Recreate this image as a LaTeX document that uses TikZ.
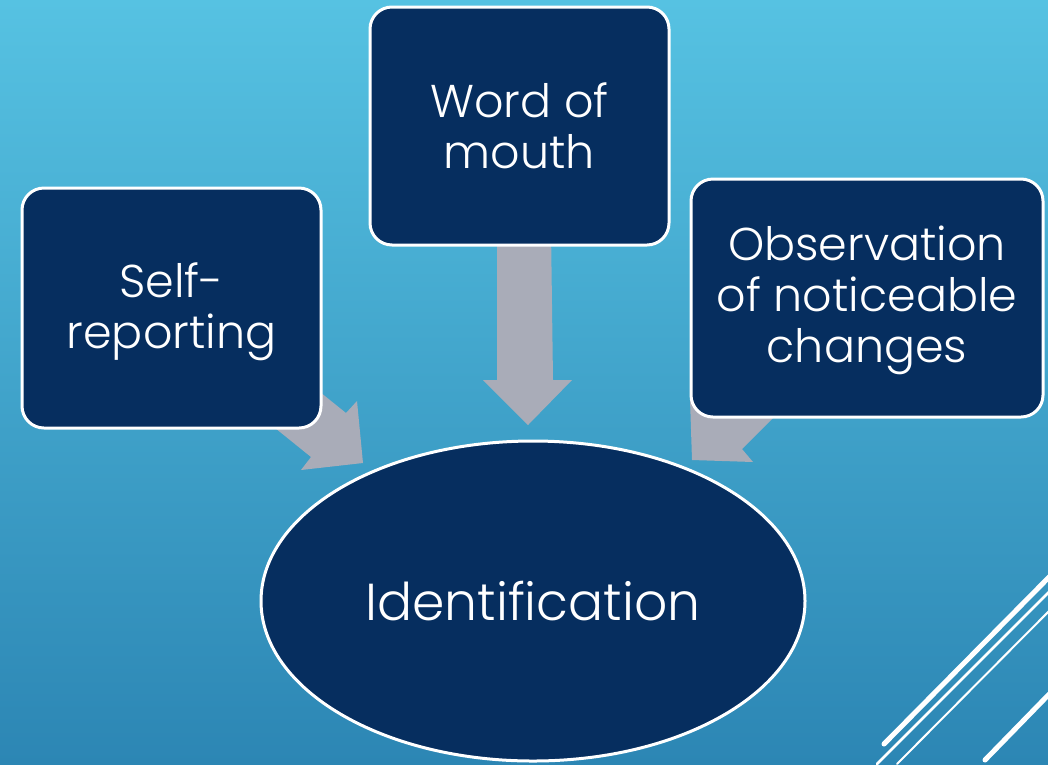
\documentclass[tikz,border=0pt]{standalone}
\usepackage{fontspec}
\IfFontExistsTF{Poppins Light}{\setmainfont{Poppins Light}}{\setmainfont{Poppins}}
\usetikzlibrary{shapes.geometric}
\definecolor{bgtop}{HTML}{56C2E2}
\definecolor{bgbot}{HTML}{2C86B4}
\definecolor{navy}{HTML}{062E5F}
\definecolor{arrowgray}{HTML}{A9ACB8}
\tikzset{
  box/.style={draw=white, line width=3pt, fill=navy, rounded corners=22pt,
    text=white, align=center, font=\fontsize{46}{51}\selectfont, inner sep=0pt},
  oval/.style={ellipse, draw=white, line width=3pt, fill=navy, text=white,
    inner sep=0pt, font=\fontsize{52}{60}\selectfont},
  blockarrow/.style={fill=arrowgray, draw=none},
  deco/.style={white, line cap=round}
}
\begin{document}
\begin{tikzpicture}[x=1pt,y=-1pt]
\shade[top color=bgtop, bottom color=bgbot] (0,0) rectangle (1048,764);
\useasboundingbox (0,0) rectangle (1048,764);
% decorative lines
\draw[deco, line width=5pt] (884,744) -- (1060,566);
\draw[deco, line width=2.6pt] (877,764) -- (1060,581);
\draw[deco, line width=2pt] (897,764) -- (1060,600);
\draw[deco, line width=5pt] (985,760) -- (1060,683);
% block arrows (behind nodes)
\fill[blockarrow] (253,338) -- (346,413) -- (357,401) -- (363,463) -- (301,470) -- (311,457) -- (218,382) -- cycle;
\fill[blockarrow] (497,230) -- (497,380) -- (483,380) -- (528,425) -- (572,380) -- (553,380) -- (551,230) -- cycle;
\fill[blockarrow] (827,364) -- (742,449) -- (753,462) -- (692,460) -- (690,399) -- (703,410) -- (788,325) -- cycle;
% nodes
\node[box, minimum width=299pt, minimum height=240pt] (self) at (171.5,308) {};
\node[text=white, align=center, font=\fontsize{46}{51}\selectfont, inner sep=0pt] (selftext) at (171.5,312) {Self-\\reporting};
\node[box, minimum width=299pt, minimum height=238pt] (word) at (519.5,126) {Word of\\mouth};
\node[box, minimum width=352pt, minimum height=238pt] (obs) at (867,298) {};
\node[text=white, align=center, font=\fontsize{46}{51}\selectfont, inner sep=0pt] (obstext) at (867,300) {Observation\\of noticeable\\changes};
\node[oval, minimum width=544pt, minimum height=320pt] (ident) at (533,601) {Identification};
\end{tikzpicture}
\end{document}
